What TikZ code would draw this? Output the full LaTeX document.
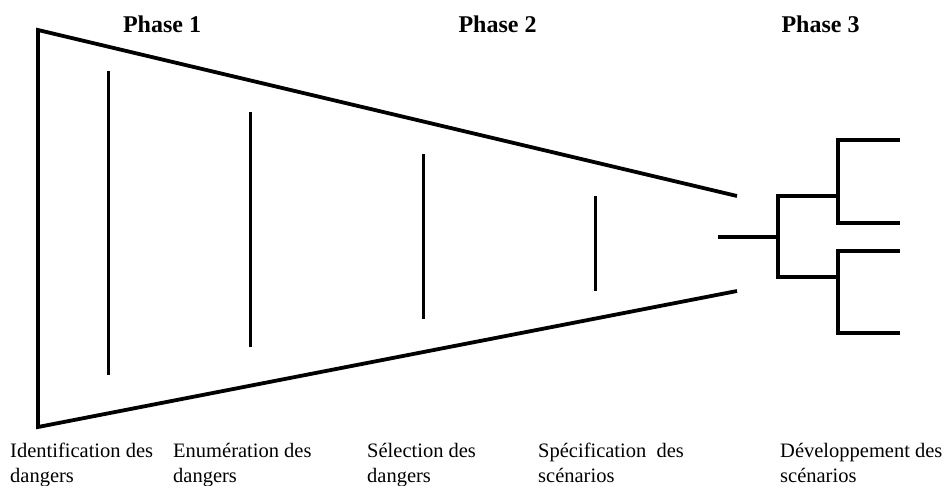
\documentclass[tikz,border=0pt]{standalone}
\usepackage{fontspec}
\setmainfont{Liberation Serif}
\begin{document}
\begin{tikzpicture}[x=1pt,y=-1pt,
  outline/.style={line width=3.8pt,line join=miter},
  divider/.style={line width=3pt},
  branch/.style={line width=3.6pt,line join=miter},
  heading/.style={inner sep=0pt,anchor=base,font=\fontsize{24}{28}\selectfont\bfseries},
  label/.style={inner sep=0pt,anchor=base west,align=left,font=\fontsize{20.5}{25}\selectfont}]
\useasboundingbox (0,0) rectangle (947,485);
% funnel
\draw[outline] (737,196) -- (38,30) -- (38,427) -- (737,291);
% phase dividers
\draw[divider] (108,71) -- (108,375);
\draw[divider] (250,112) -- (250,347);
\draw[divider] (423,154) -- (423,319);
\draw[divider] (595,196) -- (595,291);
% scenario tree
\coordinate (root) at (718,237);
\coordinate (fork) at (778,237);
\draw[branch] (root) -- (fork);
\draw[branch] (838,196) -- (778,196) -- (778,277) -- (838,277);
\draw[branch] (900,140) -- (838,140) -- (838,223) -- (900,223);
\draw[branch] (900,251) -- (838,251) -- (838,333) -- (900,333);
% headings
\node[heading] (p1) at (162,32) {Phase 1};
\node[heading] (p2) at (497.5,32) {Phase 2};
\node[heading] (p3) at (820.5,32) {Phase 3};
% labels (anchor at baseline of the second line)
\node[label] (l1) at (10,482) {Identification des\\dangers};
\node[label] (l2) at (173,482) {Enumération des\\dangers};
\node[label] (l3) at (367,482) {Sélection des\\dangers};
\node[label] (l4) at (538,482) {Spécification~ des\\scénarios};
\node[label] (l5) at (780,482) {Développement des\\scénarios};
\end{tikzpicture}
\end{document}
